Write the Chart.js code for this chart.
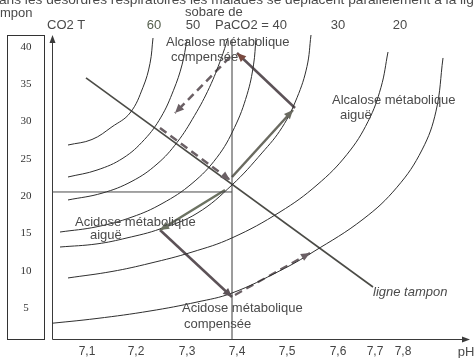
<!DOCTYPE html>
<html><head><meta charset="utf-8">
<script src="https://cdn.jsdelivr.net/npm/chart.js@4"></script>
<style>html,body{margin:0;padding:0;background:#fff;}#wrap{width:474px;height:358px;position:relative;overflow:hidden}</style>
</head><body><div id="wrap"><canvas id="c" width="474" height="358"></canvas></div>
<script>
// Davenport diagram: total CO2 (mmol/l) against pH, with PaCO2 isobars,
// the buffer line and the four metabolic disorders.

// PaCO2 isobars, inner (high PaCO2) to outer (low PaCO2): [pH, CO2 T]
const isobar1 = [[7.072,26.86],[7.12,27.6],[7.16,29.3],[7.196,31.15],[7.222,34.6],[7.236,37.8],[7.242,41.21]];
const isobar2 = [[7.072,22.57],[7.13,23.5],[7.182,25.1],[7.225,27.6],[7.258,30.6],[7.283,34.2],[7.3,37.6],[7.31,40.94]];
const isobar3 = [[7.072,19.49],[7.14,20.4],[7.2,22.0],[7.25,24.3],[7.29,27.2],[7.325,30.8],[7.355,34.6],[7.378,38.4],[7.392,41.21]];
const isobar4 = [[7.056,15.19],[7.13,15.9],[7.2,17.2],[7.26,19.0],[7.32,21.7],[7.37,25.2],[7.405,29.2],[7.43,33.6],[7.443,37.6],[7.448,41.21]];
const isobar5 = [[7.056,13.18],[7.13,13.6],[7.19,14.4],[7.256,15.6],[7.33,17.7],[7.4,21.5],[7.46,25.8],[7.5,29.2],[7.53,33.2],[7.55,37.4],[7.558,41.61]];
const isobar6 = [[7.072,9.03],[7.16,9.9],[7.236,11.0],[7.32,12.5],[7.4,14.4],[7.496,17.88],[7.57,21.5],[7.63,25.6],[7.672,30.0],[7.698,34.6],[7.712,39.33]];
const isobar7 = [[7.026,2.86],[7.13,3.6],[7.236,4.6],[7.33,5.8],[7.4,7.01],[7.496,10.0],[7.562,12.51],[7.662,16.9],[7.73,21.2],[7.78,26.2],[7.808,31.4],[7.822,38.53]];

// buffer line ("ligne tampon") and reference lines through the normal point
const bufferLine = [[7.108,35.85],[7.682,7.82]];
const normalCO2 = [[7.04,20.56],[7.4,20.56]];
const normalPH = [[7.4,0.85],[7.4,40.94]];

// metabolic alkalosis path
const acuteAlkalosis = [[7.4,22.57],[7.522,31.55]];
const compensatedAlkalosis = [[7.526,31.82],[7.41,39.20]];
const alkalosisReturnA = [[7.396,38.66],[7.286,31.15]];
const alkalosisReturnB = [[7.256,29.14],[7.396,22.17]];
// metabolic acidosis path
const acuteAcidosis = [[7.386,20.83],[7.256,15.46]];
const compensatedAcidosis = [[7.256,15.46],[7.4,6.48]];
const acidosisReturn = [[7.406,6.75],[7.556,12.38]];

// axis texts
const co2Ticks = [40,35,30,25,20,15,10,5];
const phLabels = ['7,1','7,2','7,3','7,4','7,5','7,6','7,7','7,8'];
const phLabelAt = [7.11,7.208,7.31,7.41,7.51,7.612,7.686,7.742];
const axisBaseCO2 = 0.85;

const toPts = a => a.map(([x, y]) => ({x, y}));
function curve(data, extra) {
  return Object.assign({data: toPts(data), pointRadius: 0, borderWidth: 1, borderColor: '#2f2f2f',
    tension: 0.4, fill: false}, extra);
}
function straight(data, extra) {
  return Object.assign({data: toPts(data), pointRadius: 0, borderWidth: 1, borderColor: '#444',
    tension: 0, fill: false}, extra);
}
const thick = '#5c5257';
const datasets = [
  curve(isobar1), curve(isobar2), curve(isobar3), curve(isobar4),
  curve(isobar5), curve(isobar6), curve(isobar7),
  straight(normalCO2, {borderColor: '#4a4a4a'}),
  straight(normalPH, {borderColor: '#3a3a3a'}),
  straight(bufferLine, {borderColor: '#4b4b46', borderWidth: 1.6}),
  straight(acuteAlkalosis, {borderColor: '#6a6a60', borderWidth: 2.5, arrow: true}),
  straight(compensatedAlkalosis, {borderColor: thick, borderWidth: 2.5, arrow: true, arrowColor: '#7a4a40'}),
  straight(alkalosisReturnA, {borderColor: '#6b6065', borderWidth: 2.5, borderDash: [8, 5], arrow: true}),
  straight(alkalosisReturnB, {borderColor: '#6b6065', borderWidth: 2.5, borderDash: [8, 5], arrow: true}),
  straight(acuteAcidosis, {borderColor: '#6c7262', borderWidth: 2.5, arrow: true}),
  straight(compensatedAcidosis, {borderColor: thick, borderWidth: 2.5, arrow: true}),
  straight(acidosisReturn, {borderColor: '#6b6065', borderWidth: 2.2, borderDash: [8, 5], arrow: true})
];

// free text, pixel layout
const texts = [
  {t: 'ans les désordres respiratoires les malades se déplacent parallèlement à la ligne', x: -1, y: 4, base: 'alphabetic', size: 13.7},
  {t: 'mpon', x: 0, y: 13},
  {t: 'sobare de', x: 185, y: 12},
  {t: 'CO2 T', x: 47, y: 25},
  {t: '60', x: 154, y: 25, align: 'center', color: '#56604e'},
  {t: '50', x: 193, y: 25, align: 'center'},
  {t: 'PaCO2 = 40', x: 215, y: 25},
  {t: '30', x: 338, y: 25, align: 'center'},
  {t: '20', x: 400, y: 25, align: 'center'},
  {t: 'Alcalose métabolique', x: 166, y: 42},
  {t: 'compensée', x: 171, y: 57},
  {t: 'Alcalose métabolique', x: 332, y: 100},
  {t: 'aiguë', x: 340, y: 115},
  {t: 'Acidose métabolique', x: 75, y: 222},
  {t: 'aiguë', x: 90, y: 235},
  {t: 'Acidose métabolique', x: 182, y: 308},
  {t: 'compensée', x: 184, y: 324},
  {t: 'ligne tampon', x: 373, y: 292, italic: true},
  {t: 'pH', x: 466, y: 352, align: 'center'}
];

const decor = {
  id: 'decor',
  beforeDatasetsDraw(chart) {
    const {ctx, scales: {x, y}} = chart;
    ctx.save();
    ctx.strokeStyle = '#333';
    ctx.lineWidth = 1;
    ctx.strokeRect(7.5, 35.5, 37, 304);
    ctx.font = '11px "Liberation Serif"';
    ctx.fillStyle = '#333';
    ctx.textAlign = 'center';
    ctx.textBaseline = 'middle';
    co2Ticks.forEach(v => ctx.fillText(String(v), 26, y.getPixelForValue(v)));
    // axes with arrows
    const ax = Math.round(x.getPixelForValue(x.min)) + 0.5;
    const ay = Math.round(y.getPixelForValue(axisBaseCO2)) + 0.5;
    const top = y.getPixelForValue(41.6);
    const right = x.getPixelForValue(x.max);
    ctx.strokeStyle = '#3a3a3a';
    ctx.beginPath();
    ctx.moveTo(ax, ay); ctx.lineTo(ax, top + 5);
    ctx.moveTo(ax, ay); ctx.lineTo(right - 5, ay);
    ctx.stroke();
    ctx.fillStyle = '#3a3a3a';
    ctx.beginPath(); ctx.moveTo(ax, top); ctx.lineTo(ax - 3, top + 8); ctx.lineTo(ax + 3, top + 8); ctx.closePath(); ctx.fill();
    ctx.beginPath(); ctx.moveTo(right, ay); ctx.lineTo(right - 8, ay - 3); ctx.lineTo(right - 8, ay + 3); ctx.closePath(); ctx.fill();
    // pH tick labels
    ctx.font = '12px "Liberation Sans"';
    ctx.fillStyle = '#444';
    phLabels.forEach((l, i) => ctx.fillText(l, x.getPixelForValue(phLabelAt[i]), 352));
    ctx.restore();
  },
  afterDatasetsDraw(chart) {
    const {ctx} = chart;
    ctx.save();
    chart.data.datasets.forEach((ds, i) => {
      if (!ds.arrow) return;
      const pts = chart.getDatasetMeta(i).data;
      const p1 = pts[pts.length - 2], p2 = pts[pts.length - 1];
      const a = Math.atan2(p2.y - p1.y, p2.x - p1.x);
      const L = 9, W = 4;
      ctx.fillStyle = ds.arrowColor || ds.borderColor;
      ctx.beginPath();
      ctx.moveTo(p2.x, p2.y);
      ctx.lineTo(p2.x - L * Math.cos(a) + W * Math.sin(a), p2.y - L * Math.sin(a) - W * Math.cos(a));
      ctx.lineTo(p2.x - L * Math.cos(a) - W * Math.sin(a), p2.y - L * Math.sin(a) + W * Math.cos(a));
      ctx.closePath();
      ctx.fill();
    });
    texts.forEach(o => {
      ctx.font = (o.italic ? 'italic ' : '') + (o.size || 13) + 'px "Liberation Sans"';
      ctx.fillStyle = o.color || '#4a4a4a';
      ctx.textAlign = o.align || 'left';
      ctx.textBaseline = o.base || 'middle';
      ctx.fillText(o.t, o.x, o.y);
    });
    ctx.restore();
  }
};

new Chart(document.getElementById('c'), {
  type: 'scatter',
  data: {datasets: datasets.map(d => Object.assign({showLine: true}, d))},
  options: {
    responsive: false,
    animation: false,
    events: [],
    layout: {padding: {left: 52, right: 4, top: 32.1, bottom: 12.7}},
    plugins: {legend: {display: false}, tooltip: {enabled: false}},
    scales: {
      x: {type: 'linear', min: 7.04, max: 7.876, display: false},
      y: {type: 'linear', min: 0, max: 42, display: false}
    }
  },
  plugins: [decor]
});
</script>
</body></html>
